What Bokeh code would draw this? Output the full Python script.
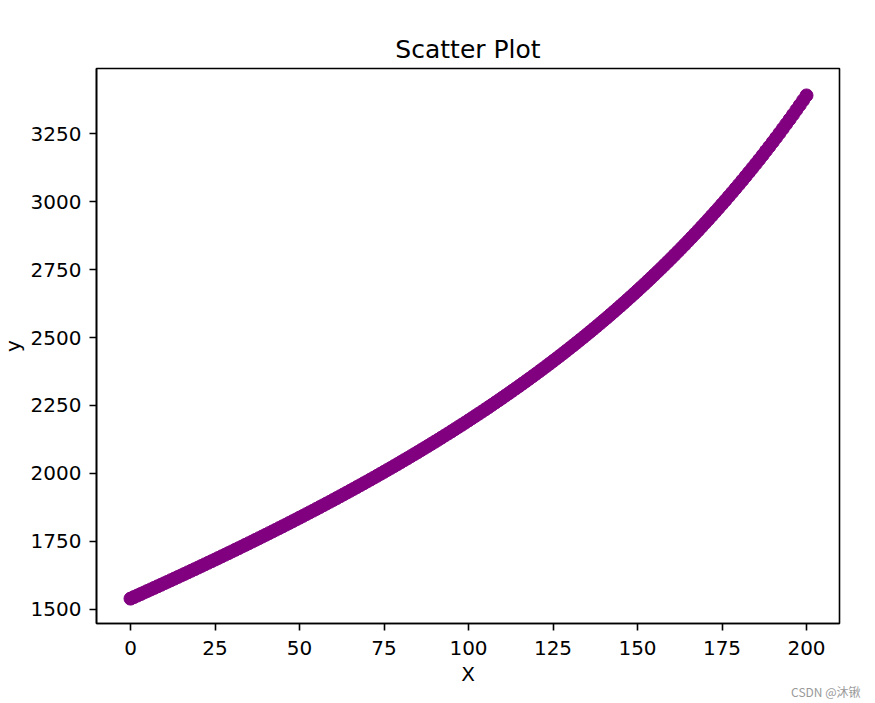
from bokeh.plotting import figure
from bokeh.models import Range1d, FixedTicker, Title
from bokeh.embed import file_html
from bokeh.resources import INLINE

x_values = list(range(0, 201))
y_values = [
    1540.0, 1545.6, 1551.2, 1556.8, 1562.4, 1568.1, 1573.7, 1579.4, 1585.0, 1590.7,
    1596.4, 1602.1, 1607.9, 1613.6, 1619.4, 1625.1, 1630.9, 1636.7, 1642.5, 1648.3,
    1654.2, 1660.0, 1665.9, 1671.8, 1677.7, 1683.6, 1689.5, 1695.5, 1701.5, 1707.4,
    1713.4, 1719.5, 1725.5, 1731.6, 1737.6, 1743.7, 1749.8, 1756.0, 1762.1, 1768.3,
    1774.5, 1780.7, 1786.9, 1793.2, 1799.4, 1805.7, 1812.0, 1818.4, 1824.7, 1831.1,
    1837.5, 1843.9, 1850.4, 1856.9, 1863.3, 1869.9, 1876.4, 1883.0, 1889.6, 1896.2,
    1902.8, 1909.5, 1916.2, 1923.0, 1929.7, 1936.5, 1943.3, 1950.2, 1957.0, 1963.9,
    1970.8, 1977.8, 1984.8, 1991.8, 1998.9, 2006.0, 2013.1, 2020.2, 2027.4, 2034.6,
    2041.9, 2049.2, 2056.5, 2063.9, 2071.3, 2078.7, 2086.2, 2093.7, 2101.2, 2108.8,
    2116.4, 2124.1, 2131.8, 2139.6, 2147.3, 2155.2, 2163.1, 2171.0, 2178.9, 2187.0,
    2195.0, 2203.1, 2211.3, 2219.5, 2227.7, 2236.0, 2244.3, 2252.7, 2261.2, 2269.6,
    2278.2, 2286.8, 2295.4, 2304.2, 2312.9, 2321.7, 2330.6, 2339.6, 2348.5, 2357.6,
    2366.7, 2375.9, 2385.1, 2394.4, 2403.7, 2413.2, 2422.7, 2432.2, 2441.8, 2451.5,
    2461.3, 2471.1, 2481.0, 2491.0, 2501.0, 2511.1, 2521.3, 2531.6, 2541.9, 2552.4,
    2562.9, 2573.4, 2584.1, 2594.9, 2605.7, 2616.6, 2627.6, 2638.7, 2649.9, 2661.2,
    2672.5, 2684.0, 2695.5, 2707.2, 2718.9, 2730.7, 2742.6, 2754.6, 2766.8, 2779.0,
    2791.4, 2803.8, 2816.4, 2829.1, 2841.8, 2854.7, 2867.7, 2880.9, 2894.1, 2907.4,
    2920.9, 2934.5, 2948.2, 2962.0, 2975.9, 2990.1, 3004.3, 3018.7, 3033.2, 3047.8,
    3062.5, 3077.4, 3092.5, 3107.7, 3123.0, 3138.5, 3154.1, 3169.9, 3185.9, 3202.0,
    3218.3, 3234.6, 3251.2, 3268.0, 3284.9, 3301.9, 3319.2, 3336.6, 3354.3, 3372.1,
    3390.0,
]
x_ticks = [0, 25, 50, 75, 100, 125, 150, 175, 200]
y_ticks = [1500, 1750, 2000, 2250, 2500, 2750, 3000, 3250]

title_text = "Scatter Plot"
x_label = "X"
y_label = "y"
watermark = "CSDN @沐锹"

FONT = "DejaVu Sans"

p = figure(
    output_backend="svg",
    toolbar_location=None,
    width=875,
    height=703,
    min_border_left=96,
    min_border_top=68,
    min_border_right=36,
    min_border_bottom=80,
    x_range=Range1d(-10.06, 209.76),
    y_range=Range1d(1448.5, 3489.0),
    title=title_text,
    background_fill_color="white",
    border_fill_color="white",
)

p.scatter(x_values, y_values, size=13, fill_color="#800080", line_color="#800080", line_width=1)

# Title
p.title.align = "center"
p.title.text_font = FONT
p.title.text_font_size = "25px"
p.title.text_font_style = "normal"
p.title.text_color = "black"
p.title.standoff = 10

# Frame
p.outline_line_color = "black"
p.outline_line_width = 1.6
p.xgrid.visible = False
p.ygrid.visible = False

for ax in (p.xaxis[0], p.yaxis[0]):
    ax.axis_line_color = "black"
    ax.axis_line_width = 1.6
    ax.major_tick_line_color = "black"
    ax.major_tick_line_width = 1.6
    ax.major_tick_out = 7
    ax.major_tick_in = 0
    ax.minor_tick_line_color = None
    ax.major_label_text_font = FONT
    ax.major_label_text_font_size = "20px"
    ax.major_label_text_color = "black"
    ax.axis_label_text_font = FONT
    ax.axis_label_text_font_size = "20px"
    ax.axis_label_text_font_style = "normal"
    ax.axis_label_text_color = "black"

p.xaxis[0].ticker = FixedTicker(ticks=x_ticks)
p.yaxis[0].ticker = FixedTicker(ticks=y_ticks)
p.xaxis[0].axis_label = x_label
p.xaxis[0].major_label_standoff = 10
p.yaxis[0].major_label_standoff = 8
p.xaxis[0].axis_label_standoff = 4

# y label as an outer left title, pushed to the canvas edge like the reference
p.add_layout(Title(
    text=y_label, align="center", vertical_align="top", standoff=1,
    text_font=FONT, text_font_size="20px", text_font_style="normal", text_color="black",
), "left")

# watermark at the bottom right
p.add_layout(Title(
    text=watermark, align="right", offset=-21, standoff=-22,
    text_font="Noto Sans CJK SC", text_font_size="12px", text_font_style="normal",
    text_color="#999999",
), "below")

open("out.html", "w").write(file_html(p, INLINE))
